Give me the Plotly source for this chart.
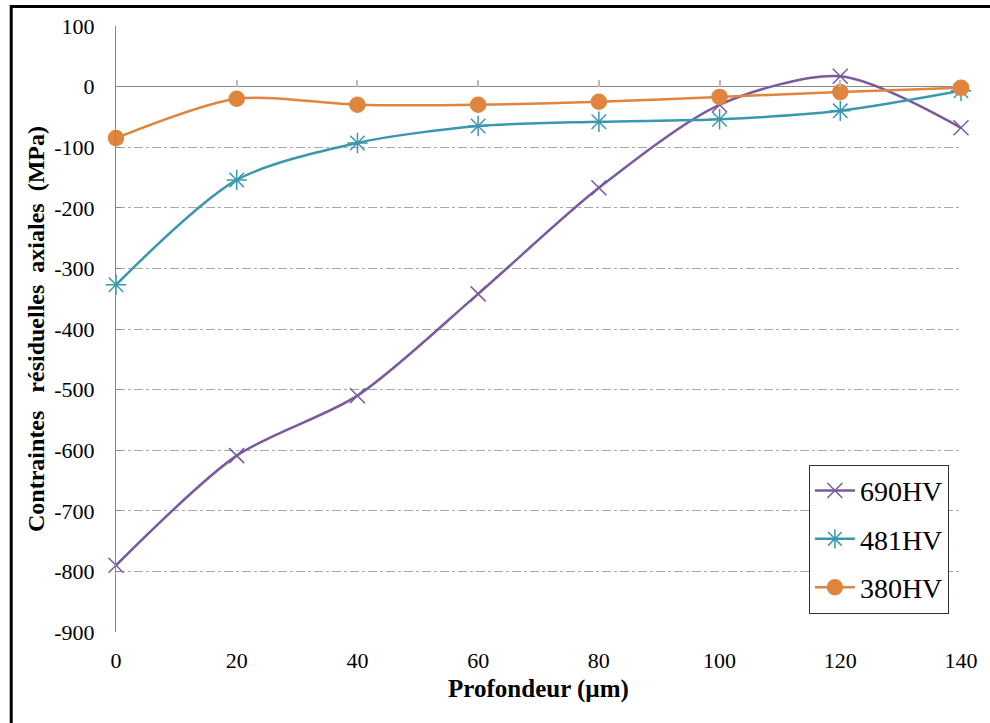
import plotly.graph_objects as go

depth = [0, 20, 40, 60, 80, 100, 120, 140]
hv690 = [-790, -609, -510, -342, -167, -30, 17, -68]
hv481 = [-327, -154, -93, -65, -58, -54, -40, -7]
hv380 = [-85, -20, -30, -30, -25, -17, -9, -2]

series_names = ["690HV", "481HV", "380HV"]
x_ticks = [0, 20, 40, 60, 80, 100, 120, 140]
y_ticks = list(range(-900, 101, 100))

colors = ["#7a5a9c", "#3b97ae", "#df853e"]
symbols = ["x-thin-open", "asterisk-open", "circle"]
sizes = [15, 17, 15]

fig = go.Figure()
for i, (name, vals) in enumerate(zip(series_names, [hv690, hv481, hv380])):
    fig.add_trace(go.Scatter(
        x=depth, y=vals, name=name, mode="lines+markers",
        line=dict(color=colors[i], width=2.5, shape="spline", smoothing=0.8),
        marker=dict(symbol=symbols[i], size=sizes[i], color=colors[i],
                    line=dict(color=colors[i], width=1.5)),
        legendgroup=name, cliponaxis=False,
    ))

serif = "Liberation Serif"
nb = "\u00a0"
ytitle = f"<b>Contraintes{nb*3}résiduelles{nb*2}axiales{nb*2}(MPa)</b>"

fig.update_layout(
    width=990, height=723,
    margin=dict(l=116, r=26, t=26, b=91),
    paper_bgcolor="white", plot_bgcolor="white",
    font=dict(family=serif, color="black", size=22),
    showlegend=True,
    legend=dict(x=0.82, y=0.276, xanchor="left", yanchor="top",
                bgcolor="white", bordercolor="#333", borderwidth=1,
                font=dict(family=serif, size=28, color="black"),
                tracegroupgap=9, itemwidth=40),
    xaxis=dict(range=[0, 140], tickvals=x_ticks, ticktext=[str(v) for v in x_ticks],
               tickfont=dict(family=serif, size=22, color="black"),
               showgrid=False, zeroline=False, showline=False, ticks="",
               ticklabelstandoff=13,
               title=dict(text="<b>Profondeur (µm)</b>", font=dict(family=serif, size=25), standoff=7)),
    xaxis2=dict(range=[0, 140], overlaying="x", anchor="free", position=0.9,
                tickvals=x_ticks, showticklabels=False, ticks="inside", ticklen=7,
                tickcolor="#bbbbbb", tickwidth=2, showline=False, showgrid=False,
                zeroline=False),
    yaxis=dict(range=[-900, 100], tickvals=y_ticks, ticktext=[str(v) for v in y_ticks],
               tickfont=dict(family=serif, size=22, color="black"),
               showgrid=True, gridcolor="#a8a8a8", griddash="dashdot", gridwidth=1,
               zeroline=True, zerolinecolor="#888888", zerolinewidth=1.2,
               showline=True, linecolor="#888888", linewidth=1.2,
               ticks="inside", ticklen=5, tickcolor="#888888",
               ticklabelstandoff=16,
               title=dict(text=ytitle, font=dict(family=serif, size=24), standoff=2)),
)

# dummy invisible trace to make xaxis2 render
fig.add_trace(go.Scatter(x=[0], y=[0], xaxis="x2", mode="markers",
                         marker=dict(opacity=0), showlegend=False, hoverinfo="skip"))

# outer frame
fig.add_shape(type="rect", xref="paper", yref="paper",
              x0=-0.124, x1=1.2, y0=-0.3, y1=1.032,
              line=dict(color="black", width=3), layer="below")

fig.write_html("out.html", config={"displayModeBar": False},
               post_script="document.body.style.margin='0';")
